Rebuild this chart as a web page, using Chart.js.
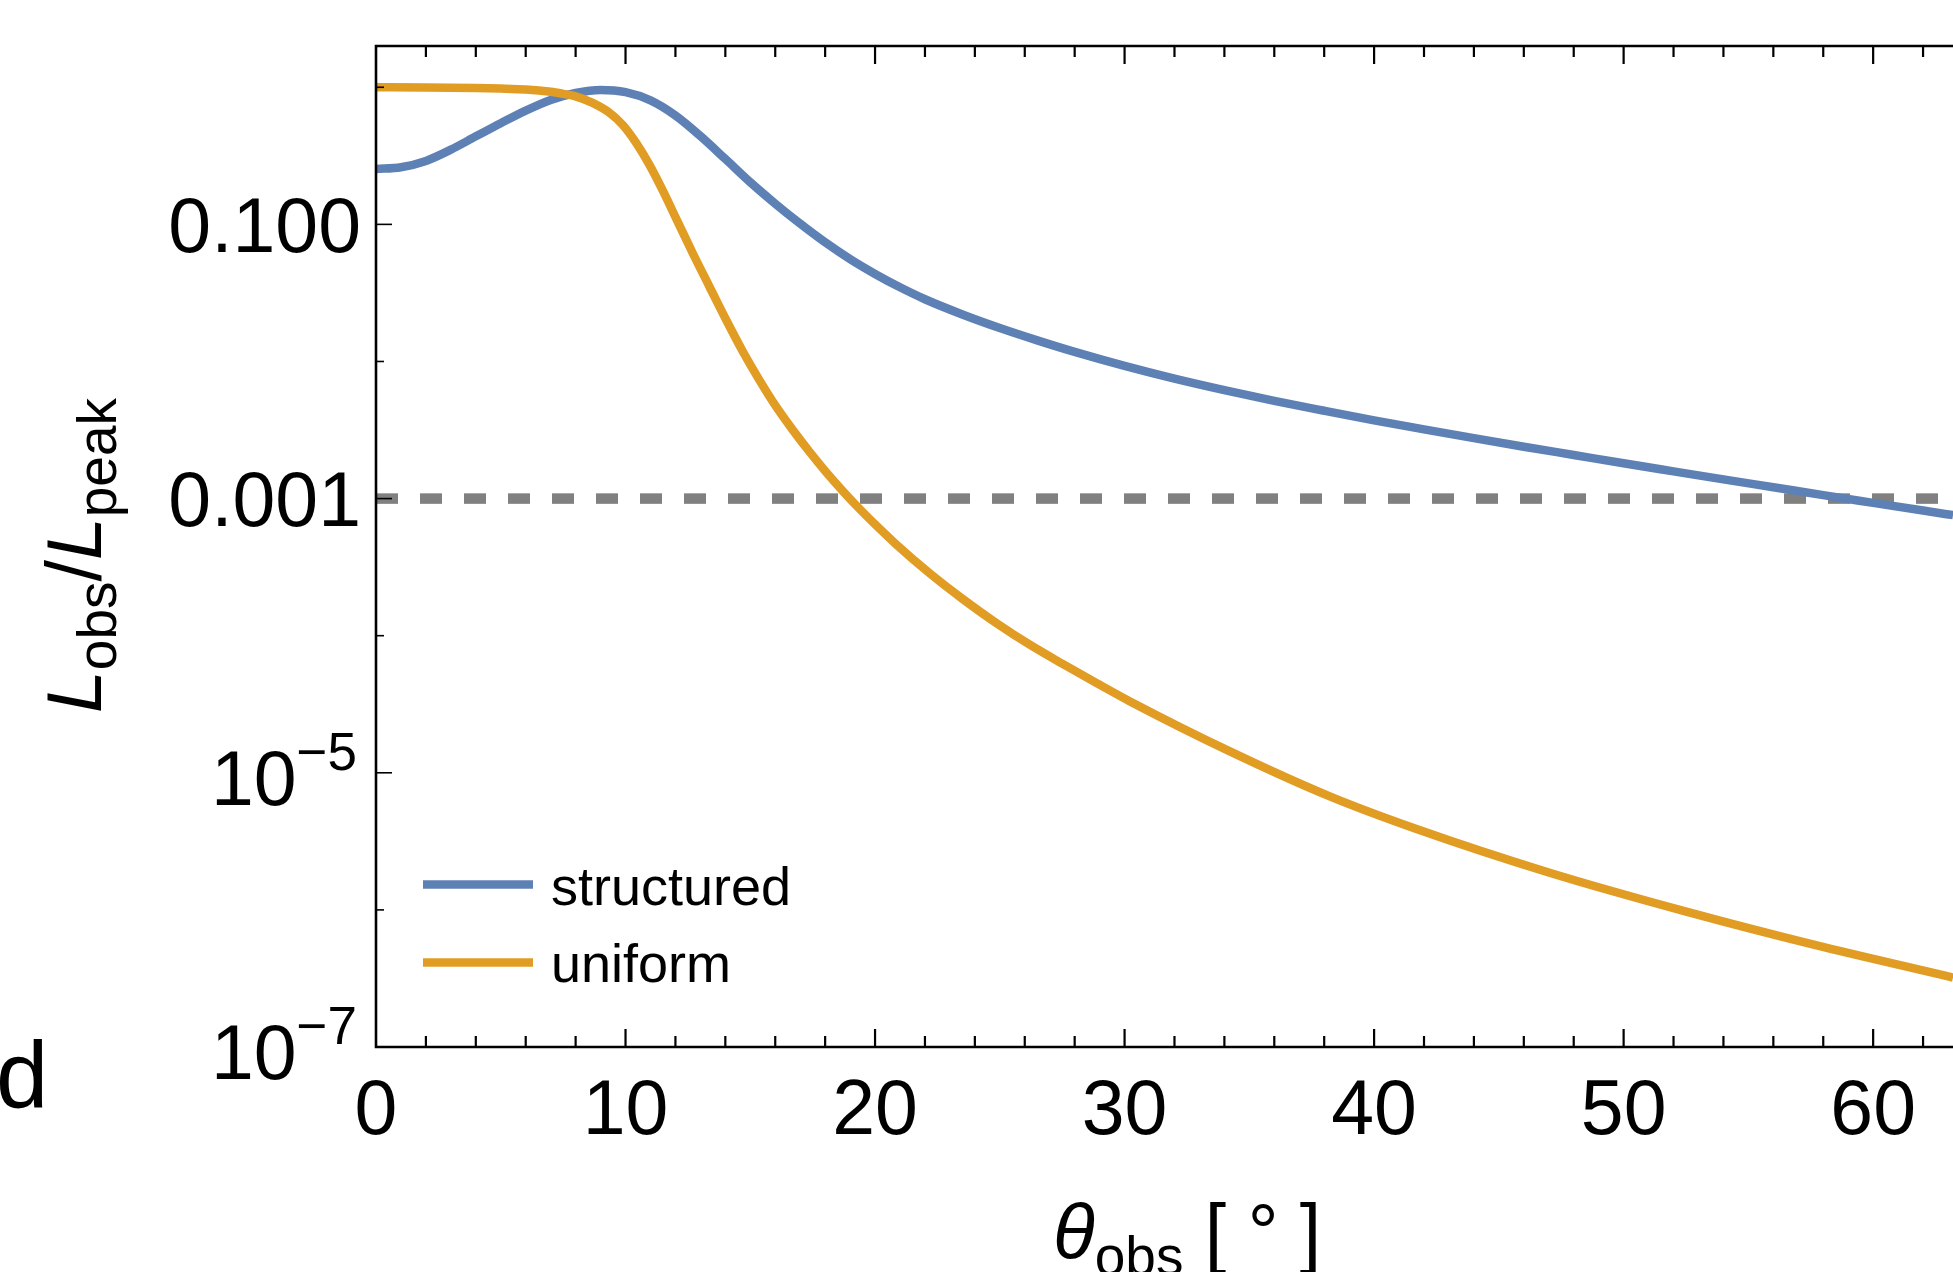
<!DOCTYPE html>
<html>
<head>
<meta charset="utf-8">
<script src="https://cdn.jsdelivr.net/npm/chart.js@4.4.1/dist/chart.umd.min.js"></script>
<style>
  html, body { margin: 0; padding: 0; background: #fff; overflow: hidden; }
  canvas { display: block; }
</style>
</head>
<body>
<canvas id="c" width="1953" height="1272"></canvas>
<script>
// ---------- data ----------
const seriesNames = ['structured', 'uniform'];
const seriesColors = ['#5E81B5', '#E19C24'];

const structuredTheta = [0,1,2,3,4,5,6,7,8,9,10,11,12,13,14,15,16,17,18,19,20,21,22,
  23.5,25,26.5,28,30,32,34,36,38,40,42,44,46,48,50,52,54,56,58,60,62,63.2];
const structuredL = [0.2535,0.2612,0.2904,0.3508,0.4385,0.547,0.6761,0.8091,0.9078,0.955,
  0.9204,0.8017,0.6223,0.4406,0.2999,0.2028,0.1416,0.1012,0.074,0.0558,0.0435,0.03475,0.02844,
  0.02203,0.01754,0.01426,0.01175,0.00929,0.0075,0.00618,0.00516,0.00437,0.00372,0.0032,0.00276,
  0.00239,0.00208,0.00181,0.00158,0.00138,0.00121,0.00106,0.000931,0.000818,0.000757];

const uniformTheta = [0,2,4,5,6,7,7.5,8,8.68,9.35,9.89,10.42,10.96,11.49,12.02,12.69,13.36,
  14.03,14.7,15.36,16.03,16.7,17.4,18,18.7,19.4,20,20.8,22.2,23.5,24.9,26.2,27.5,28.9,30.2,34.2,38.2,
  41.7,47,52.4,57.7,62.5,63.2];
const uniformL = [1.0,0.9977,0.9886,0.9795,0.9638,0.9268,0.8954,0.859,0.7691,0.6531,
  0.5309,0.3945,0.2716,0.177,0.1112,0.0618,0.03524,0.02014,0.01183,0.007345,
  0.004699,0.00317,0.002163,0.001592,0.00114,0.000834,0.000649,0.000472,0.000284,0.000186,
  0.0001222,8.59e-5,6.25e-5,4.49e-5,3.33e-5,1.439e-5,6.76e-6,3.89e-6,1.875e-6,9.84e-7,5.53e-7,3.44e-7,3.21e-7];

const thresholdTheta = [0, 63.2];
const thresholdL = [0.001, 0.001];

const xTickValues = [0, 10, 20, 30, 40, 50, 60];
const xTickLabels = ['0', '10', '20', '30', '40', '50', '60'];
const xMinorStep = 2;
const yTickValues = [1e-7, 1e-5, 1e-3, 1e-1];
const yTickLabels = ['10^\u22127', '10^\u22125', '0.001', '0.100'];
const yMinorValues = [1e-6, 1e-4, 1e-2, 1];

// ---------- helpers ----------
const FONT = '"Liberation Sans", Arial, sans-serif';
const pts = (xs, ys) => xs.map((v, i) => ({ x: v, y: ys[i] }));

const framePlugin = {
  id: 'frame',
  afterDatasetsDraw(chart) {
    const { ctx, chartArea: a, scales: { x, y } } = chart;
    ctx.save();
    // frame (right side is cut off in the reference)
    ctx.strokeStyle = '#000';
    ctx.lineWidth = 2.6;
    ctx.beginPath();
    ctx.moveTo(a.right + 4, a.top);
    ctx.lineTo(a.left, a.top);
    ctx.lineTo(a.left, a.bottom);
    ctx.lineTo(a.right + 4, a.bottom);
    ctx.stroke();

    // x ticks (bottom and top, inward)
    ctx.lineWidth = 2.2;
    for (let v = xMinorStep; v <= x.max; v += xMinorStep) {
      const px = x.getPixelForValue(v);
      const len = (v % 10 === 0) ? 18 : 11;
      ctx.beginPath();
      ctx.moveTo(px, a.bottom); ctx.lineTo(px, a.bottom - len);
      ctx.moveTo(px, a.top); ctx.lineTo(px, a.top + len);
      ctx.stroke();
    }
    // y ticks (left, inward)
    ctx.lineWidth = 1.6;
    yTickValues.forEach(v => {
      const py = y.getPixelForValue(v);
      ctx.beginPath(); ctx.moveTo(a.left, py); ctx.lineTo(a.left + 16, py); ctx.stroke();
    });
    yMinorValues.forEach(v => {
      const py = y.getPixelForValue(v);
      ctx.beginPath(); ctx.moveTo(a.left, py); ctx.lineTo(a.left + 8, py); ctx.stroke();
    });

    // tick labels
    ctx.fillStyle = '#000';
    const mainFont = '77px ' + FONT;
    const supFont = '53px ' + FONT;
    ctx.font = mainFont;
    ctx.textAlign = 'center';
    ctx.textBaseline = 'alphabetic';
    xTickValues.forEach((v, i) => {
      ctx.fillText(xTickLabels[i], x.getPixelForValue(v), 1134);
    });
    ctx.textAlign = 'left';
    yTickValues.forEach((v, i) => {
      const py = y.getPixelForValue(v);
      const lab = yTickLabels[i];
      if (lab.includes('^')) {
        const [base, exp] = lab.split('^');
        ctx.font = mainFont; const wb = ctx.measureText(base).width;
        ctx.font = supFont; const we = ctx.measureText(exp).width;
        const start = 357 - wb - we;
        ctx.font = mainFont; ctx.fillText(base, start, py + 32);
        ctx.font = supFont; ctx.fillText(exp, start + wb, py - 3);
      } else {
        ctx.font = mainFont;
        const w = ctx.measureText(lab).width;
        ctx.fillText(lab, 361 - w, py + 27.5);
      }
    });

    // legend (inside plot, lower left)
    chart.data.datasets.slice(0, 2).forEach((ds, i) => {
      const ly = 884.5 + i * 78;
      ctx.strokeStyle = ds.borderColor;
      ctx.lineWidth = 8.3;
      ctx.beginPath(); ctx.moveTo(423, ly); ctx.lineTo(533, ly); ctx.stroke();
      ctx.fillStyle = '#000';
      ctx.font = '54px ' + FONT;
      ctx.fillText(ds.label, 551, 905 + i * 77);
    });

    // x-axis title: θ_obs [ ° ]
    let cx = 1053;
    const by = 1259;
    ctx.font = 'italic 77px ' + FONT;
    ctx.fillText('\u03B8', cx, by); cx += ctx.measureText('\u03B8').width;
    ctx.font = '55px ' + FONT;
    ctx.fillText('obs', cx, by + 16); cx += ctx.measureText('obs').width;
    ctx.font = '77px ' + FONT;
    ctx.fillText(' [ \u00B0 ]', cx, by);

    // y-axis title: L_obs / L_peak (rotated)
    ctx.save();
    ctx.translate(101, 713);
    ctx.rotate(-Math.PI / 2);
    let tx = 0;
    const parts = [
      ['italic 77px ' + FONT, 'L', 0],
      ['55px ' + FONT, 'obs', 15],
      ['77px ' + FONT, '/', 0],
      ['italic 77px ' + FONT, 'L', 0],
      ['55px ' + FONT, 'peak', 15]
    ];
    parts.forEach(([f, t, dy]) => {
      ctx.font = f;
      ctx.fillText(t, tx, dy);
      tx += ctx.measureText(t).width;
    });
    ctx.restore();

    // panel label
    ctx.font = '94px ' + FONT;
    ctx.fillText('d', -4, 1108);
    ctx.restore();
  }
};

new Chart(document.getElementById('c'), {
  type: 'line',
  data: {
    datasets: [
      {
        label: seriesNames[0],
        data: pts(structuredTheta, structuredL),
        borderColor: seriesColors[0],
        borderWidth: 8.5,
        pointRadius: 0,
        cubicInterpolationMode: 'monotone',
        fill: false,
        order: 1
      },
      {
        label: seriesNames[1],
        data: pts(uniformTheta, uniformL),
        borderColor: seriesColors[1],
        borderWidth: 8.5,
        pointRadius: 0,
        cubicInterpolationMode: 'monotone',
        fill: false,
        order: 0
      },
      {
        label: 'threshold',
        data: pts(thresholdTheta, thresholdL),
        borderColor: '#808080',
        borderWidth: 10.5,
        borderDash: [22, 22],
        borderCapStyle: 'butt',
        pointRadius: 0,
        fill: false,
        order: 2
      }
    ]
  },
  options: {
    responsive: false,
    animation: false,
    devicePixelRatio: 1,
    layout: { padding: { left: 376, top: 46, right: 0, bottom: 225 } },
    plugins: { legend: { display: false }, tooltip: { enabled: false } },
    scales: {
      x: { type: 'linear', min: 0, max: 63.2, display: false },
      y: { type: 'logarithmic', min: 1e-7, max: 2, display: false }
    }
  },
  plugins: [framePlugin]
});
</script>
</body>
</html>
